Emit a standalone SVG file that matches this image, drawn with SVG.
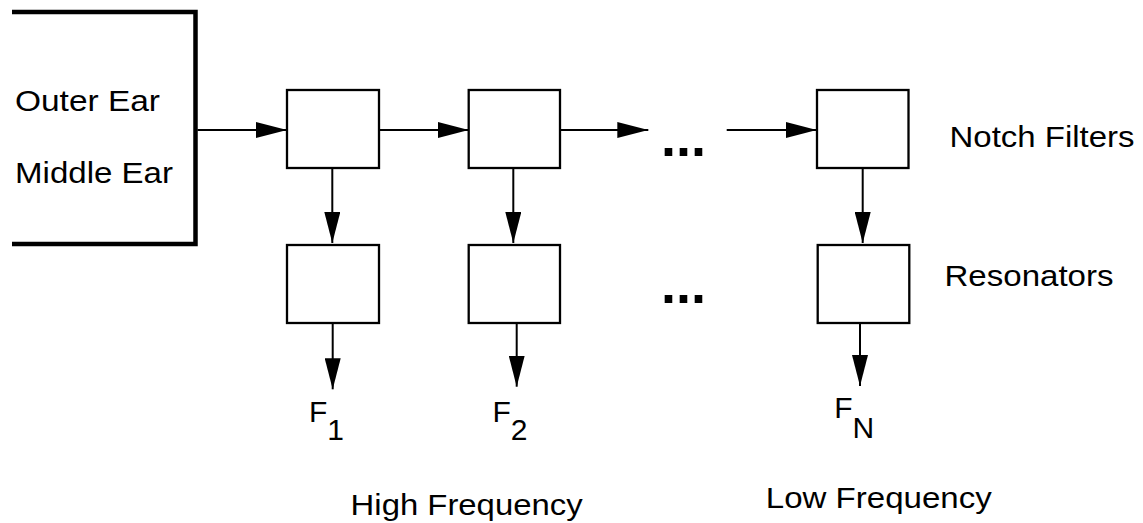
<svg xmlns="http://www.w3.org/2000/svg" width="1143" height="523" viewBox="0 0 1143 523">
  <style>
    .box { fill: #fff; stroke: #000; stroke-width: 2.3; }
    .wire { fill: none; stroke: #000; stroke-width: 2; }
    .lbl { font-family: "Liberation Sans", Arial, Helvetica, sans-serif; font-size: 30px; fill: #000; }
    .dots { font-family: "Liberation Sans", Arial, Helvetica, sans-serif; font-size: 54px; font-weight: bold; fill: #000; }
  </style>
  <defs>
    <marker id="head" markerUnits="userSpaceOnUse" markerWidth="32" markerHeight="16" refX="31" refY="8" orient="auto">
      <path d="M0,0 L31,8 L0,16 Z" fill="#000"/>
    </marker>
  </defs>
  <rect width="1143" height="523" fill="#fff"/>

  <!-- outer / middle ear bracket -->
  <g id="ear">
    <polyline points="12,12 195.5,12 195.5,244 12,244" fill="none" stroke="#000" stroke-width="4.5"/>
    <text class="lbl" x="15" y="111" textLength="145" lengthAdjust="spacingAndGlyphs">Outer Ear</text>
    <text class="lbl" x="15" y="183" textLength="158" lengthAdjust="spacingAndGlyphs">Middle Ear</text>
  </g>

  <!-- notch filter row -->
  <g id="notch1"><rect class="box" x="287" y="90" width="92" height="78"/></g>
  <g id="notch2"><rect class="box" x="468.7" y="90" width="91.3" height="78"/></g>
  <g id="notchN"><rect class="box" x="817" y="90" width="91.5" height="78"/></g>

  <!-- resonator row -->
  <g id="res1"><rect class="box" x="287" y="245" width="92" height="78"/></g>
  <g id="res2"><rect class="box" x="468.7" y="245" width="91.3" height="78"/></g>
  <g id="resN"><rect class="box" x="817.7" y="245" width="91.6" height="78"/></g>

  <!-- ellipses between columns -->
  <g id="gap-top"><text class="dots" x="661" y="156">...</text></g>
  <g id="gap-bottom"><text class="dots" x="661" y="303">...</text></g>

  <!-- outputs -->
  <g id="out1"><text class="lbl" x="309" y="421.7">F<tspan dy="18.3">1</tspan></text></g>
  <g id="out2"><text class="lbl" x="492.5" y="421.7">F<tspan dy="18.3">2</tspan></text></g>
  <g id="outN"><text class="lbl" x="834.2" y="418">F<tspan dy="20">N</tspan></text></g>

  <!-- row / column captions -->
  <g id="captions">
    <text class="lbl" x="949.5" y="146.7" textLength="185" lengthAdjust="spacingAndGlyphs">Notch Filters</text>
    <text class="lbl" x="944.5" y="286" textLength="169" lengthAdjust="spacingAndGlyphs">Resonators</text>
    <text class="lbl" x="350.6" y="515" textLength="232" lengthAdjust="spacingAndGlyphs">High Frequency</text>
    <text class="lbl" x="765.8" y="508.3" textLength="226" lengthAdjust="spacingAndGlyphs">Low Frequency</text>
  </g>

  <!-- signal flow -->
  <g id="connectors" class="wire" marker-end="url(#head)">
    <line x1="197.5" y1="130" x2="287" y2="130"/>
    <line x1="379" y1="130" x2="468.7" y2="130"/>
    <line x1="560" y1="130" x2="648.3" y2="130"/>
    <line x1="726.7" y1="130" x2="816.7" y2="130"/>
    <line x1="332.3" y1="168" x2="332.3" y2="243"/>
    <line x1="513.3" y1="168" x2="513.3" y2="243"/>
    <line x1="862.7" y1="168" x2="862.7" y2="243"/>
    <line x1="332.7" y1="323" x2="332.7" y2="389.3"/>
    <line x1="516.7" y1="323" x2="516.7" y2="386.7"/>
    <line x1="860" y1="323" x2="860" y2="386"/>
  </g>
</svg>
